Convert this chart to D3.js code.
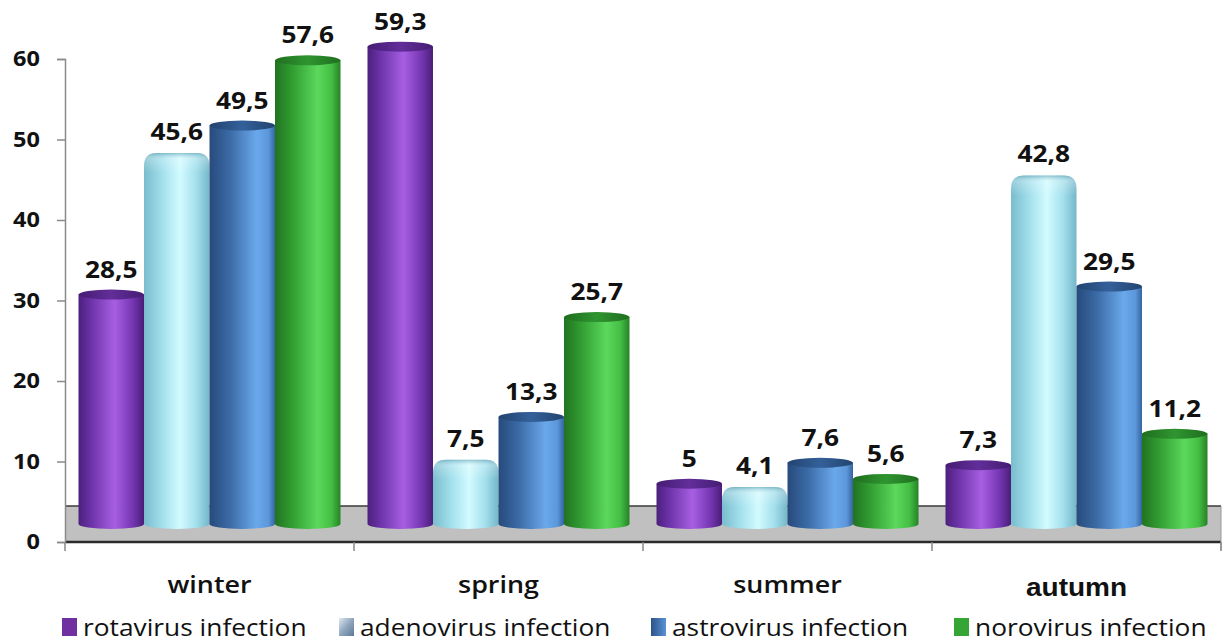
<!DOCTYPE html>
<html>
<head>
<meta charset="utf-8">
<script src="https://cdn.jsdelivr.net/npm/d3@7"></script>
<style>
  html, body { margin: 0; padding: 0; background: #fff; }
  svg { display: block; }
</style>
</head>
<body>
<svg id="chart" width="1222" height="643"></svg>
<script>
// Seasonal share of intestinal infections, by virus
const seasons = ["winter", "spring", "summer", "autumn"];
const seriesNames = ["rotavirus infection", "adenovirus infection", "astrovirus infection", "norovirus infection"];
const rotavirus  = [28.5, 59.3, 5.0, 7.3];
const adenovirus = [45.6, 7.5, 4.1, 42.8];
const astrovirus = [49.5, 13.3, 7.6, 29.5];
const norovirus  = [57.6, 25.7, 5.6, 11.2];
const yTicks = [0, 10, 20, 30, 40, 50, 60];

const seriesValues = [rotavirus, adenovirus, astrovirus, norovirus];

const svg = d3.select("#chart");
const defs = svg.append("defs");

const sansFont = "'Open Sans', 'Noto Sans', sans-serif";
const stretch = 1.12;   // text is set slightly wide

// place a text whose glyphs are widened horizontally around its anchor
function placeText(sel, xf, yf) {
  return sel.attr("x", 0).attr("y", 0)
    .attr("transform", (d, i) => `translate(${xf(d, i)},${yf(d, i)}) scale(${stretch},1)`);
}

// plot frame (front plane of the 3D floor)
const left = 65, right = 1221;
const y = d3.scaleLinear().domain([0, 60]).range([542, 59]);
const depth = 36;            // floor depth in px
const mid = depth / 2;       // bars stand in the middle of the floor

const x0 = d3.scaleBand().domain(seasons).range([left, left + 4 * 289]).padding(0);
const x1 = d3.scaleBand().domain(d3.range(4)).range([13.5, 289 - 13.5]).padding(0);

// horizontal shading for cylinder bodies
const palettes = [
  { body: [[0, "#4c207c"], [0.18, "#6a31a6"], [0.55, "#a75fe2"], [0.82, "#7637b4"], [1, "#4a1e78"]],
    top: [[0, "#451c72"], [0.5, "#622e9a"], [1, "#451c72"]] },
  { body: [[0, "#79bccd"], [0.3, "#a6e2ee"], [0.55, "#d2fbff"], [0.8, "#a3dfec"], [1, "#74b6c8"]],
    top: [[0, "#8ac9d8"], [0.5, "#c4f2fa"], [1, "#8ac9d8"]] },
  { body: [[0, "#274b7c"], [0.3, "#3a69a4"], [0.72, "#6aa8ec"], [0.9, "#5b97da"], [1, "#35649f"]],
    top: [[0, "#22446f"], [0.5, "#34609a"], [1, "#22446f"]] },
  { body: [[0, "#217321"], [0.28, "#33a033"], [0.65, "#5cd85c"], [0.86, "#44bf44"], [1, "#268226"]],
    top: [[0, "#1f6e1f"], [0.5, "#2f952f"], [1, "#1f6e1f"]] }
];

palettes.forEach((p, i) => {
  const gb = defs.append("linearGradient").attr("id", "body" + i)
    .attr("x1", 0).attr("x2", 1).attr("y1", 0).attr("y2", 0);
  p.body.forEach(s => gb.append("stop").attr("offset", s[0]).attr("stop-color", s[1]));
  const gt = defs.append("linearGradient").attr("id", "top" + i)
    .attr("x1", 0).attr("x2", 1).attr("y1", 0).attr("y2", 0);
  p.top.forEach(s => gt.append("stop").attr("offset", s[0]).attr("stop-color", s[1]));
});

// soft shading at the rounded caps
const capShade = defs.append("linearGradient").attr("id", "capShade")
  .attr("x1", 0).attr("x2", 0).attr("y1", 0).attr("y2", 1);
capShade.append("stop").attr("offset", 0).attr("stop-color", "#5f9cb0").attr("stop-opacity", 0.6);
capShade.append("stop").attr("offset", 0.3).attr("stop-color", "#ffffff").attr("stop-opacity", 0.25);
capShade.append("stop").attr("offset", 1).attr("stop-color", "#ffffff").attr("stop-opacity", 0);

// legend icons: bevelled square for adenovirus, shaded square for astrovirus
const bevel = defs.append("linearGradient").attr("id", "bevel")
  .attr("x1", 0).attr("x2", 1).attr("y1", 0).attr("y2", 1);
bevel.append("stop").attr("offset", 0).attr("stop-color", "#dfe8f0");
bevel.append("stop").attr("offset", 0.5).attr("stop-color", "#8fa6bd");
bevel.append("stop").attr("offset", 1).attr("stop-color", "#5d7894");
const astroIcon = defs.append("linearGradient").attr("id", "astroIcon")
  .attr("x1", 0).attr("x2", 1).attr("y1", 0).attr("y2", 0);
astroIcon.append("stop").attr("offset", 0).attr("stop-color", "#2c5389");
astroIcon.append("stop").attr("offset", 1).attr("stop-color", "#5a92d6");

// floor
svg.append("rect")
  .attr("x", left).attr("y", y(0) - depth)
  .attr("width", right - left).attr("height", depth)
  .attr("fill", "#c0c0c0");
svg.append("line")
  .attr("x1", left).attr("x2", right).attr("y1", y(0) - depth).attr("y2", y(0) - depth)
  .attr("stroke", "#3a3a3a").attr("stroke-width", 1.5);
svg.append("line")
  .attr("x1", left).attr("x2", right).attr("y1", y(0)).attr("y2", y(0))
  .attr("stroke", "#2a2a2a").attr("stroke-width", 2.5);
svg.append("line")
  .attr("x1", right).attr("x2", right).attr("y1", y(0) - depth).attr("y2", y(0) + 8)
  .attr("stroke", "#999").attr("stroke-width", 1);

// category ticks on the front edge
svg.append("g").selectAll("line").data(d3.range(seasons.length + 1)).join("line")
  .attr("x1", i => left + i * x0.bandwidth()).attr("x2", i => left + i * x0.bandwidth())
  .attr("y1", y(0)).attr("y2", y(0) + 9)
  .attr("stroke", "#888").attr("stroke-width", 1.5);

// y axis
const yAxis = svg.append("g").attr("transform", `translate(${left},0)`)
  .call(d3.axisLeft(y).tickValues(yTicks).tickSize(8).tickPadding(17).tickFormat(d3.format("d")));
yAxis.select(".domain").attr("stroke", "#8a8a8a").attr("stroke-width", 1.5);
yAxis.selectAll(".tick line").attr("stroke", "#8a8a8a").attr("stroke-width", 1.5);
yAxis.selectAll(".tick text")
  .attr("x", null)
  .attr("transform", `translate(-25,0) scale(${stretch},1)`)
  .attr("font-family", sansFont)
  .attr("font-weight", 700).attr("font-size", 21).attr("fill", "#111");

// bars
const rx = x1.bandwidth() / 2;
const ry = 5;
const bars = [];
seasons.forEach((s, ci) => {
  seriesValues.forEach((vals, si) => {
    bars.push({ season: s, si, value: vals[ci] });
  });
});

const barG = svg.append("g");
bars.forEach(b => {
  const xl = x0(b.season) + x1(b.si);
  const xr = xl + x1.bandwidth();
  const cx = xl + rx;
  const yt = y(b.value) - mid;
  const yb = y(0) - mid;
  const g = barG.append("g");
  if (b.si === 1) {
    // rounded-cap column
    const r = 13;
    const t = yt - 4;
    const path = `M${xl},${yb} L${xl},${t + r} Q${xl},${t} ${xl + r},${t}` +
      ` L${xr - r},${t} Q${xr},${t} ${xr},${t + r} L${xr},${yb}` +
      ` A${rx},${ry} 0 0 1 ${xl},${yb} Z`;
    g.append("path").attr("d", path).attr("fill", "url(#body1)");
    g.append("path")
      .attr("d", `M${xl},${t + 20} L${xl},${t + r} Q${xl},${t} ${xl + r},${t}` +
        ` L${xr - r},${t} Q${xr},${t} ${xr},${t + r} L${xr},${t + 20} Z`)
      .attr("fill", "url(#capShade)");
  } else {
    const path = `M${xl},${yt} L${xl},${yb} A${rx},${ry} 0 0 0 ${xr},${yb} L${xr},${yt} Z`;
    g.append("path").attr("d", path).attr("fill", `url(#body${b.si})`);
    g.append("ellipse").attr("cx", cx).attr("cy", yt).attr("rx", rx).attr("ry", ry)
      .attr("fill", `url(#top${b.si})`);
  }
  b.labelY = yt - ry - 12;
  b.cx = cx;
});

// value labels (decimal comma)
const fmt = v => (Number.isInteger(v) ? String(v) : v.toFixed(1).replace(".", ","));
placeText(
  svg.append("g").selectAll("text").data(bars).join("text"),
  d => d.cx, d => d.labelY)
  .attr("text-anchor", "middle")
  .attr("font-family", sansFont)
  .attr("font-weight", 700).attr("font-size", 23.5).attr("fill", "#111")
  .text(d => fmt(d.value));

// category labels
placeText(
  svg.append("g").selectAll("text").data(seasons).join("text"),
  d => x0(d) + x0.bandwidth() / 2, d => d === "autumn" ? 596 : 593)
  .attr("text-anchor", "middle")
  .attr("font-family", d => d === "autumn" ? "'Liberation Sans', Arial, sans-serif" : sansFont)
  .attr("font-weight", d => d === "autumn" ? 700 : 600)
  .attr("font-size", d => d === "autumn" ? 25 : 24).attr("fill", "#111")
  .text(d => d);

// legend
const legendX = [62, 339, 651, 954];
const iconFill = ["#7030a0", "url(#bevel)", "url(#astroIcon)", "#35a535"];
const leg = svg.append("g").selectAll("g").data(seriesNames).join("g")
  .attr("transform", (d, i) => `translate(${legendX[i]},618)`);
leg.append("rect").attr("x", 0).attr("y", 0).attr("width", 15).attr("height", 18)
  .attr("fill", (d, i) => iconFill[i]);
placeText(leg.append("text"), () => 21, () => 18)
  .attr("font-family", sansFont)
  .attr("font-size", 23.5).attr("fill", "#111")
  .text(d => d);
</script>
</body>
</html>
